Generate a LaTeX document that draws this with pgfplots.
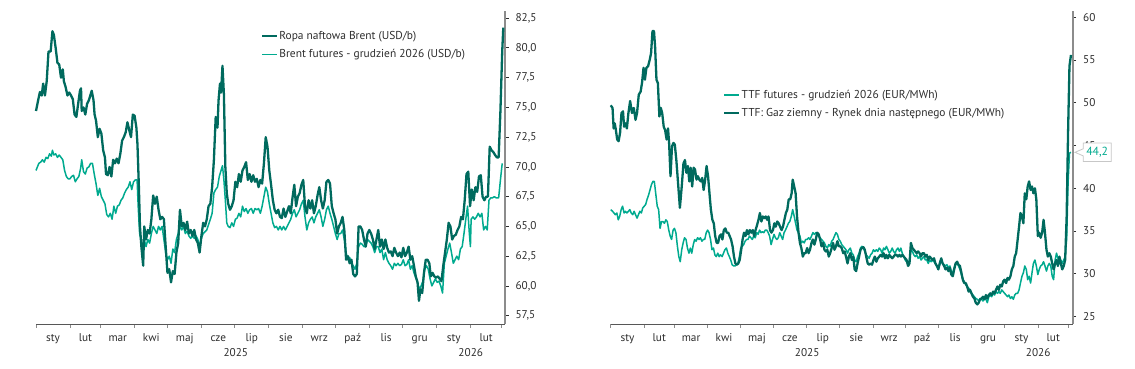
\documentclass[border=0pt]{standalone}
\usepackage{fontspec}
\setmainfont{PT Sans}
\usepackage{pgfplots}
\usepackage{pgfplotstable}
\pgfplotsset{compat=1.18}
\usetikzlibrary{shapes.callouts}
\definecolor{dk}{RGB}{0,106,94}
\definecolor{lt}{RGB}{0,170,143}
\definecolor{axgray}{RGB}{140,140,140}
\definecolor{txt}{RGB}{45,45,45}

\pgfplotstableread{
d v
0 74.7
1.95 75.6
3.58 76.3
5.21 76.0
6.51 77.0
8.14 76.0
9.76 77.2
11.39 79.7
13.34 79.7
14.97 81.4
16.27 81.1
17.9 80.0
19.52 78.75
21.15 78.6
22.78 77.5
24.41 78.2
25.38 77.2
27.01 76.7
28.64 76.0
30.26 76.25
31.89 76.0
33.52 75.7
35.14 74.4
36.77 74.2
38.4 75.3
40.03 76.4
41.0 76.6
41.65 74.7
43.28 75.0
44.91 74.4
46.53 75.3
48.16 75.6
50.76 76.4
52.39 75.6
53.37 74.4
54.67 73.9
56.3 72.5
57.92 73.2
59.55 72.8
61.18 71.4
62.8 70.8
63.78 69.4
65.41 69.3
67.03 70.0
68.66 69.2
70.29 70.6
71.92 70.3
73.54 70.7
75.17 70.3
76.8 71.1
78.42 72.2
80.05 72.5
81.68 72.9
83.3 73.75
84.93 73.1
86.56 72.5
88.19 74.4
89.81 74.3
91.44 73.3
92.42 71.9
93.72 68.3
94.69 65.0
95.99 63.3
97.62 61.7
98.6 65.0
100.22 63.9
101.85 64.7
103.48 64.4
105.1 65.6
106.73 67.6
108.36 66.9
109.99 67.5
111.62 66.4
113.24 65.6
114.87 65.8
116.5 65.6
118.12 63.3
119.75 61.1
121.38 61.4
123.0 60.3
124.63 61.25
126.26 61.0
127.89 62.8
129.51 63.6
131.14 66.4
132.77 65.0
134.39 65.3
136.02 64.7
137.65 65.4
139.28 64.4
140.9 64.7
142.53 64.2
144.16 64.7
145.78 63.9
147.41 63.6
149.04 62.8
150.67 64.2
152.29 65.3
153.92 65.0
155.55 65.6
157.17 66.7
158.8 66.9
160.43 68.3
162.05 70.6
163.68 74.2
165.31 73.3
166.28 75.6
167.59 77.0
168.56 76.25
169.86 78.5
171.16 76.1
172.47 70.0
173.77 67.8
175.07 66.9
176.7 66.4
178.32 66.7
179.95 67.2
181.58 68.75
183.21 68.3
184.83 69.4
186.46 68.75
188.09 69.7
189.71 70.0
191.34 70.4
192.97 68.9
194.59 69.4
196.22 68.75
197.85 69.3
199.48 68.75
201.1 69.0
202.73 68.3
204.36 68.9
205.98 68.6
207.61 70.3
209.24 72.5
210.86 71.7
212.49 69.7
214.12 68.5
215.75 67.2
217.37 66.4
219.0 66.1
220.63 66.4
222.25 65.8
223.88 65.7
225.51 66.5
227.14 65.8
228.76 66.25
230.39 66.7
232.02 66.1
233.64 67.4
235.27 68.5
236.9 66.7
238.53 67.5
240.15 67.8
241.78 68.5
243.41 68.9
245.03 66.7
246.66 66.1
248.29 67.2
249.92 66.5
251.54 67.2
253.17 66.1
254.8 66.7
256.42 67.6
258.05 68.3
259.68 67.2
261.3 66.5
262.93 67.2
264.56 68.75
266.19 68.9
267.81 68.6
269.44 66.7
271.07 66.1
272.69 65.6
274.32 64.4
275.95 65.0
277.58 65.3
279.2 65.8
280.83 64.7
282.46 62.2
284.08 62.5
285.71 61.9
287.34 62.2
288.96 61.0
290.59 60.8
292.22 61.0
293.85 65.0
295.47 65.0
297.1 64.7
298.73 63.9
300.35 63.3
301.98 64.4
303.61 64.7
305.24 64.4
306.86 63.9
308.49 63.1
310.12 63.9
311.74 64.7
313.37 63.3
315.0 63.9
316.62 63.1
318.25 63.9
319.88 63.2
321.51 62.8
323.13 62.9
324.76 62.5
326.39 63.2
328.01 62.8
329.64 62.5
331.27 62.8
332.89 62.4
334.52 63.2
336.15 62.5
337.78 62.8
339.4 63.3
341.03 62.2
342.66 62.5
344.28 61.7
345.91 60.8
347.54 60.3
348.84 58.75
350.14 59.7
351.77 59.4
353.4 61.1
355.02 62.2
356.65 62.2
358.28 61.9
359.58 60.8
361.21 61.1
362.83 60.8
364.46 60.7
366.09 60.8
367.71 60.6
369.34 60.4
370.97 61.7
372.59 62.8
374.22 63.9
375.85 65.3
377.48 65.0
379.1 63.9
380.73 64.2
382.36 64.3
383.98 64.7
385.61 65.0
387.24 65.8
388.87 65.6
390.49 67.2
392.12 69.4
393.75 69.6
395.37 66.7
397.0 68.1
398.63 67.2
400.25 68.3
401.88 67.9
403.51 69.2
405.14 69.3
406.76 67.5
408.39 67.2
410.01 67.5
411.64 67.5
413.27 71.7
414.9 71.4
416.52 71.25
418.15 71.0
419.78 70.8
421.4 70.8
423.03 74.7
424.66 79.7
425.64 81.7
}\brentspot

\pgfplotstableread{
d v
0 69.7
2.6 70.3
4.23 70.4
5.86 70.6
7.48 70.4
9.11 70.8
10.74 70.7
12.37 71.1
13.99 70.9
14.97 71.4
16.27 71.0
17.9 71.1
19.52 70.8
21.15 71.0
22.78 70.8
24.41 70.6
26.03 69.7
27.66 69.2
29.29 69.0
30.91 69.0
32.54 69.2
34.17 69.3
35.79 68.75
37.42 69.0
39.05 69.2
40.68 69.9
41.65 70.6
43.28 69.6
44.91 69.4
46.53 69.9
48.16 70.0
49.79 70.3
51.41 70.3
53.04 69.4
54.67 68.6
56.3 67.6
57.92 68.2
59.55 67.5
61.18 67.2
62.8 66.9
64.43 66.0
66.06 65.8
67.68 66.1
69.31 65.6
70.94 66.7
72.57 66.1
74.19 66.7
75.82 66.8
77.45 67.2
79.07 67.4
80.7 67.8
82.33 68.1
83.96 68.3
85.58 68.75
87.21 68.1
88.84 68.75
90.46 68.9
92.09 68.9
93.07 66.7
94.37 64.4
95.67 63.9
96.97 63.1
98.6 63.9
100.22 63.3
101.85 63.9
103.48 63.6
105.1 64.4
106.73 65.0
108.36 64.7
109.99 64.4
111.62 65.0
113.24 64.7
114.87 65.0
116.5 63.9
118.12 62.8
119.75 62.2
121.38 62.5
123.0 61.9
124.63 63.1
126.26 62.8
127.89 63.9
129.51 64.4
131.14 65.0
132.77 64.7
134.39 65.0
136.02 64.4
137.65 64.6
139.28 64.2
140.9 64.0
142.53 64.2
144.16 64.0
145.78 64.2
147.41 63.9
149.04 63.3
150.67 64.0
152.29 64.4
155.55 64.7
158.8 65.6
160.43 66.1
162.05 67.8
163.68 68.1
165.31 68.3
166.94 69.2
168.56 69.7
169.86 70.1
171.16 68.9
172.47 67.2
173.77 65.3
175.07 65.0
176.7 64.9
178.32 65.3
179.95 65.0
181.58 65.6
183.21 65.7
184.83 66.1
186.46 65.8
188.09 66.7
189.71 66.25
191.34 66.5
192.97 66.1
194.59 66.4
196.22 66.5
197.85 66.1
199.48 66.5
201.1 66.4
202.73 66.5
204.36 66.1
205.98 66.7
207.61 67.5
209.24 68.3
210.86 67.9
212.49 66.9
214.12 66.1
215.75 65.3
217.37 64.9
219.0 65.0
220.63 64.7
222.25 65.0
223.88 64.7
225.51 65.0
227.14 64.7
228.76 65.0
230.39 65.3
232.02 65.6
233.64 66.1
235.27 66.4
236.9 65.8
238.53 66.1
240.15 66.4
241.78 66.9
243.41 67.2
245.03 65.8
246.66 64.7
248.29 65.3
249.92 65.6
251.54 65.8
253.17 65.3
254.8 65.8
256.42 66.1
258.05 66.4
259.68 65.8
261.3 65.0
262.93 65.6
264.56 66.4
266.19 66.7
267.81 66.1
269.44 65.6
271.07 65.0
272.69 64.4
274.32 63.9
275.95 64.4
277.58 64.4
279.2 64.7
280.83 63.9
282.46 62.8
284.08 62.2
285.71 62.4
287.34 61.9
288.96 61.7
290.59 61.4
292.22 61.9
293.85 63.3
295.47 63.6
297.1 63.5
298.73 63.3
300.35 63.3
301.98 63.9
303.61 63.75
305.24 63.6
306.86 63.3
308.49 62.8
310.12 63.3
311.74 63.3
313.37 62.8
315.0 63.1
316.62 62.2
318.25 62.8
319.88 62.2
321.51 61.9
323.13 61.7
324.76 61.4
326.39 61.9
328.01 61.7
329.64 61.9
331.27 61.7
332.89 61.8
334.52 62.2
336.15 61.7
337.78 61.8
339.4 62.2
341.03 61.4
342.66 61.7
344.28 61.1
345.91 60.7
347.54 60.3
349.16 59.7
350.79 60.0
352.42 60.4
354.05 61.4
355.68 61.7
357.3 61.4
358.93 60.6
360.55 60.0
362.18 60.3
363.81 60.6
365.43 60.3
367.06 60.4
368.69 60.0
370.32 59.4
371.94 61.9
373.57 62.5
375.2 63.1
376.82 63.6
378.45 62.8
380.08 61.9
381.7 62.2
383.33 62.5
384.96 62.2
386.59 63.1
388.21 63.3
389.84 64.4
391.47 65.6
393.09 66.7
394.72 64.4
395.70 63.3
396.35 65.6
397.98 65.8
399.6 65.6
401.23 65.8
402.86 66.1
404.48 65.8
406.11 66.1
407.74 64.7
409.36 65.0
410.99 64.7
412.62 67.2
414.24 67.4
415.87 67.4
417.5 67.5
419.13 67.4
421.4 67.4
423.03 68.9
424.66 70.3
}\brentfut

\pgfplotstableread{
d v
0 49.7
1.7 49.4
2.7 47.0
3.7 47.6
4.7 46.9
6.0 45.7
7.3 45.5
8.7 46.5
10.0 48.8
11.4 49.0
12.4 47.2
13.7 47.6
15.0 47.0
16.4 48.8
18.0 50.2
19.7 48.8
21.4 49.4
23.0 48.0
24.4 48.8
26.0 50.95
27.7 51.3
29.0 52.3
30.4 54.1
31.7 52.7
33.1 54.1
34.7 54.3
36.1 55.0
37.4 55.8
38.7 58.4
40.1 58.4
41.1 56.6
42.4 52.7
43.7 52.3
45.1 48.4
46.4 49.4
47.7 48.8
49.1 47.2
50.4 46.8
51.8 45.7
53.1 47.0
54.1 45.3
55.4 41.4
56.8 44.9
58.1 45.3
59.4 45.1
60.8 43.3
62.4 40.6
64.1 37.7
65.8 40.2
67.4 42.9
68.8 43.3
70.1 41.8
71.5 42.6
72.8 40.8
74.1 42.4
75.5 40.2
76.8 42.4
78.1 42.2
79.5 41.0
80.8 41.4
82.1 41.0
83.5 40.8
84.8 41.2
86.1 39.8
87.5 41.0
88.8 42.6
90.2 41.4
91.5 39.4
92.8 37.5
94.2 36.3
95.5 35.9
96.8 34.4
98.2 33.6
99.5 33.6
100.8 34.4
102.2 34.6
103.5 34.0
104.8 35.1
106.2 35.3
107.5 34.8
108.9 34.8
110.2 34.4
111.5 34.0
112.9 33.2
114.2 32.0
115.5 31.2
116.9 31.05
118.2 31.2
119.5 31.6
120.9 32.8
122.2 34.0
123.5 34.8
124.9 34.4
126.2 35.1
127.5 34.6
128.9 35.1
130.2 34.8
131.6 35.1
132.9 34.4
134.2 35.1
135.6 35.7
136.9 36.3
138.2 37.1
139.6 36.1
140.9 36.7
142.2 36.5
143.6 36.7
144.9 36.3
146.2 36.7
147.6 35.1
148.9 34.8
150.3 35.1
151.6 35.9
152.9 35.5
154.3 36.1
155.6 35.9
156.9 35.5
158.3 35.1
159.6 35.5
160.9 36.3
162.3 37.1
163.6 37.5
164.9 38.7
166.3 38.7
167.6 39.4
168.6 41.0
170.0 40.2
171.3 39.4
172.6 36.7
174.0 34.8
175.3 33.6
176.6 33.0
178.0 32.0
179.3 32.4
180.6 32.4
182.0 33.0
183.3 32.4
184.6 32.8
186.0 33.6
187.3 34.0
188.7 33.4
190.0 34.0
191.3 34.8
192.7 34.6
194.0 34.0
195.3 33.2
196.7 33.6
198.0 32.8
199.3 32.6
200.7 32.8
202.0 32.0
203.3 32.4
204.7 33.0
206.0 33.6
207.3 32.8
208.7 33.2
210.0 33.8
211.4 33.2
212.7 33.2
214.0 33.0
215.4 32.4
216.7 32.6
218.0 32.0
219.4 31.2
220.7 32.0
222.0 32.4
223.4 31.6
224.7 32.0
226.0 30.5
227.4 30.3
228.7 31.2
230.1 32.0
231.4 32.8
232.7 33.0
234.1 33.1
235.4 32.8
236.7 32.0
238.1 31.2
239.4 31.05
240.7 31.2
242.1 31.05
243.4 31.6
244.7 32.0
246.1 31.4
247.4 31.8
248.8 32.0
250.1 32.2
251.4 32.0
252.8 32.4
254.1 31.8
255.4 32.2
256.8 31.8
258.1 32.2
259.4 32.0
260.8 31.8
262.1 32.0
263.4 32.2
264.8 32.2
266.1 32.0
267.5 32.2
268.8 32.0
270.1 32.2
271.5 32.0
272.8 31.8
274.1 31.6
275.5 30.9
276.8 31.2
278.1 33.6
279.5 33.0
280.8 32.8
282.1 32.6
283.5 32.4
284.8 32.6
286.1 32.4
287.5 32.0
288.8 32.4
290.2 32.4
291.5 32.0
292.8 32.2
294.2 31.6
295.5 32.0
296.8 31.8
298.2 31.6
299.5 31.8
300.8 31.2
302.2 30.9
303.5 30.5
304.8 31.2
306.2 31.8
307.5 31.2
308.9 30.9
310.2 30.5
311.5 30.7
312.9 30.3
314.2 30.7
315.5 29.9
316.9 29.7
318.2 30.5
319.5 31.2
320.9 31.4
322.2 31.05
323.5 30.9
324.9 30.1
326.2 29.3
327.5 28.9
328.9 28.9
330.2 28.5
331.6 27.9
332.9 28.1
334.2 27.7
335.6 27.3
336.9 27.1
338.2 26.6
339.6 26.4
340.9 26.6
342.2 27.0
343.6 27.1
344.9 27.3
346.2 27.0
347.6 27.5
348.9 27.1
350.3 27.5
351.6 27.7
352.9 27.5
354.3 27.9
355.6 27.7
356.9 28.1
358.3 28.5
359.6 28.1
360.9 28.7
362.3 28.5
363.6 29.1
364.9 29.3
366.3 28.9
367.6 29.5
368.9 29.3
370.3 29.7
371.6 30.5
373.0 30.9
374.3 32.0
375.6 32.4
377.0 34.0
378.3 35.5
379.6 37.1
381.0 36.7
382.3 35.9
383.6 39.4
385.0 38.7
386.3 40.2
387.6 40.8
389.0 39.8
390.3 40.2
391.6 39.4
393.0 40.0
394.3 38.7
395.7 34.4
397.0 34.8
398.3 34.2
399.7 34.8
401.0 36.3
402.3 34.8
403.7 32.8
405.0 32.0
406.3 32.4
407.7 32.0
409.0 31.2
410.3 30.5
411.7 31.2
413.0 31.6
414.3 30.9
415.7 32.0
417.0 31.2
418.3 30.5
419.7 30.9
421.0 31.6
422.4 36.7
423.7 46.5
425.0 54.3
426.4 55.6
}\ttfspot

\pgfplotstableread{
d v
0 37.5
1.7 37.3
3.0 37.1
4.3 36.9
5.7 37.1
7.0 36.3
8.3 36.7
9.7 37.5
11.0 37.9
12.4 37.1
13.7 37.3
15.0 37.1
16.4 37.3
17.7 37.5
19.0 37.1
20.4 36.9
21.7 37.3
23.0 36.9
24.4 36.5
25.7 36.9
27.0 37.3
28.4 37.1
29.7 37.7
31.1 37.9
32.4 38.1
33.7 38.7
35.1 39.2
36.4 39.8
37.7 40.4
39.1 40.8
40.4 40.8
41.7 39.4
43.1 37.9
44.4 37.5
45.7 35.3
47.1 36.1
48.4 36.1
49.8 35.9
51.1 36.3
52.4 36.1
53.8 35.1
55.1 34.4
56.4 34.0
57.8 35.1
59.1 35.3
60.4 34.8
61.8 33.2
63.1 32.0
64.4 31.4
65.8 32.8
67.1 33.6
68.4 34.2
69.8 34.0
71.1 33.0
72.5 32.4
73.8 33.0
75.1 32.4
76.5 33.4
77.8 34.0
79.1 33.8
80.5 34.2
81.8 34.0
83.1 34.2
84.5 33.8
85.8 34.0
87.1 34.0
88.5 34.8
89.8 35.1
91.1 34.8
92.5 34.0
93.8 32.8
95.2 33.0
96.5 32.2
97.8 32.0
99.2 32.4
100.5 32.0
101.8 32.2
103.2 32.0
104.5 32.4
105.8 32.8
107.2 33.0
108.5 32.4
109.9 32.0
111.2 31.6
112.5 31.05
113.9 30.9
115.2 30.9
116.5 31.05
117.9 31.2
119.2 32.0
120.5 33.0
121.9 33.2
123.2 33.4
124.5 33.8
125.9 34.0
127.2 34.0
128.5 34.4
129.9 34.2
131.2 34.0
132.5 34.4
133.9 34.2
135.2 34.8
136.6 34.6
137.9 35.1
139.2 34.8
140.6 34.9
141.9 34.8
143.2 35.1
144.6 35.1
145.9 34.8
147.2 34.4
148.6 33.4
149.9 34.0
151.3 34.6
152.6 34.2
153.9 34.0
155.3 34.2
156.6 34.8
157.9 34.4
159.3 34.0
160.6 34.8
161.9 35.1
163.3 35.5
164.6 35.9
165.9 36.1
167.3 36.7
168.6 37.5
170.0 36.7
171.3 35.9
172.6 35.1
174.0 34.8
175.3 34.4
176.6 33.6
178.0 33.8
179.3 33.6
180.6 34.0
182.0 34.0
183.3 34.2
184.6 34.0
186.0 34.4
187.3 34.8
188.7 34.6
190.0 34.8
191.3 34.6
192.7 34.4
194.0 34.2
195.3 34.0
196.7 33.8
198.0 33.6
199.3 33.2
200.7 33.0
202.0 33.4
203.3 33.2
204.7 33.8
206.0 34.0
207.3 34.4
208.7 34.8
210.0 34.6
211.4 34.0
212.7 33.8
214.0 33.4
215.4 33.2
216.7 33.0
218.0 32.8
219.4 32.4
220.7 32.8
222.0 33.0
223.4 32.4
224.7 32.2
226.0 31.6
227.4 31.4
228.7 32.0
230.1 32.4
231.4 33.0
232.7 33.2
234.1 33.0
235.4 32.6
236.7 32.2
238.1 32.0
239.4 31.8
240.7 32.2
242.1 32.4
243.4 32.8
244.7 32.6
246.1 32.8
247.4 32.6
248.8 33.0
250.1 32.8
251.4 32.4
252.8 33.0
254.1 32.8
255.4 33.2
256.8 32.8
258.1 32.4
259.4 32.6
260.8 33.0
262.1 32.6
263.4 32.4
264.8 32.8
266.1 33.0
267.5 32.6
268.8 33.0
270.1 32.4
271.5 32.0
272.8 31.6
274.1 31.4
275.5 31.2
276.8 31.6
278.1 32.8
279.5 32.6
280.8 32.2
282.1 32.0
283.5 32.2
284.8 31.8
286.1 32.0
287.5 31.6
288.8 31.8
290.2 32.0
291.5 31.6
292.8 31.6
294.2 31.2
295.5 31.6
296.8 31.4
298.2 31.6
299.5 31.4
300.8 31.2
302.2 30.9
303.5 30.7
304.8 31.05
306.2 31.6
307.5 31.2
308.9 31.05
310.2 30.9
311.5 31.05
312.9 30.7
314.2 30.9
315.5 30.3
316.9 30.1
318.2 30.7
319.5 31.05
320.9 31.2
322.2 30.9
323.5 30.5
324.9 29.9
326.2 29.3
327.5 29.1
328.9 28.7
330.2 28.5
331.6 28.3
332.9 28.1
334.2 27.7
335.6 27.5
336.9 27.3
338.2 27.1
339.6 27.0
340.9 26.8
342.2 27.1
343.6 27.0
344.9 26.8
346.2 27.1
347.6 27.0
348.9 26.6
350.3 27.3
351.6 27.5
352.9 27.3
354.3 27.7
355.6 27.5
356.9 27.9
358.3 27.7
359.6 27.9
360.9 27.7
362.3 28.1
363.6 27.9
364.9 27.7
366.3 27.5
367.6 27.3
368.9 27.5
370.3 27.1
371.6 27.3
373.0 27.0
374.3 27.5
375.6 27.7
377.0 27.7
378.3 28.1
379.6 28.9
381.0 29.7
382.3 30.1
383.6 30.9
385.0 30.5
386.3 29.3
387.6 29.7
389.0 28.9
390.3 30.1
391.6 31.2
393.0 31.6
394.3 30.9
395.7 29.9
397.0 30.5
398.3 30.9
399.7 31.05
401.0 31.4
402.3 30.9
403.7 30.3
405.0 30.9
406.3 31.2
407.7 30.9
409.0 29.7
410.3 29.3
411.7 31.6
413.0 32.4
414.3 31.8
415.7 31.2
417.0 31.6
418.3 31.2
419.7 31.6
421.0 32.0
422.4 34.0
423.7 40.6
425.0 44.1
426.4 44.2
}\ttffut

\pgfplotsset{
  base/.style={
    scale only axis,
    xmin=0,
    axis x line*=bottom,
    axis y line*=right,
    x axis line style={draw=txt!80, line width=0.9bp, -},
    y axis line style={draw=axgray, line width=1.6bp, -},
    xtick={0,31,59,90,120,151,181,212,243,273,304,334,365,396,424},
    xticklabels={},
    major tick length=3.5bp,
    tick align=outside,
    x tick style={draw=axgray, line width=0.8bp},
    y tick style={draw=txt, line width=0.8bp},
    extra x ticks={15.5,45,74.5,105,135.5,166,196.5,227.5,258,288.5,319,349.5,380.5,410},
    extra x tick labels={sty,lut,mar,kwi,maj,cze,lip,sie,wrz,paź,lis,gru,sty,lut},
    extra x tick style={major tick length=0pt, tick style={draw=none}},
    tick label style={font=\fontsize{11.3}{13}\selectfont, text=txt},
    xticklabel style={anchor=base, yshift=-17.5bp},
    yticklabel style={xshift=3.5bp},
    /pgf/number format/assume math mode=true,
    clip=false,
    legend cell align=left,
    legend style={draw=none, fill=none, font=\fontsize{11.5}{13.5}\selectfont, text=txt,
      inner sep=0pt, row sep=5.3bp, nodes={inner sep=1.5bp}},
    legend image code/.code={\draw[#1] (0bp,0bp) -- (14.7bp,0bp);},
  },
  dkline/.style={color=dk, line width=2.3bp, line join=round},
  ltline/.style={color=lt, line width=1.5bp, line join=round},
}

\begin{document}
\begin{tikzpicture}
\useasboundingbox (0,0) rectangle (1135bp,369bp);

\begin{axis}[base,
  at={(36bp,45bp)}, anchor=south west,
  width=469bp, height=313bp,
  xmax=427.2, ymin=56.8, ymax=83.1,
  ytick={57.5,60,62.5,65,67.5,70,72.5,75,77.5,80,82.5},
  yticklabel style={/pgf/number format/.cd, fixed, fixed zerofill, precision=1, use comma},
  legend style={at={(axis description cs:0.479,0.94)}, anchor=north west},
]
\addlegendimage{dkline}
\addlegendentry{Ropa naftowa Brent (USD/b)}
\addlegendimage{ltline}
\addlegendentry{Brent futures - grudzień 2026 (USD/b)}
\addplot[ltline, forget plot] table[x=d, y=v] {\brentfut};
\addplot[dkline, forget plot] table[x=d, y=v] {\brentspot};
\node[anchor=base, font=\fontsize{11.3}{13}\selectfont, text=txt] at (axis cs:182,56.8) [yshift=-32.5bp] {2025};
\node[anchor=base, font=\fontsize{11.3}{13}\selectfont, text=txt] at (axis cs:396,56.8) [yshift=-32.5bp] {2026};
\end{axis}

\begin{axis}[base,
  at={(610.7bp,45bp)}, anchor=south west,
  width=462bp, height=313bp,
  xmax=428, ymin=24.11, ymax=60.74,
  ytick={25,30,35,40,45,50,55,60},
  legend style={at={(axis description cs:0.243,0.753)}, anchor=north west},
]
\addplot[ltline] table[x=d, y=v] {\ttffut};
\addlegendentry{TTF futures - grudzień 2026 (EUR/MWh)}
\addplot[dkline] table[x=d, y=v] {\ttfspot};
\addlegendentry{TTF: Gaz ziemny - Rynek dnia następnego (EUR/MWh)}
\node[anchor=base, font=\fontsize{11.3}{13}\selectfont, text=txt] at (axis cs:182,24.11) [yshift=-32.5bp] {2025};
\node[anchor=base, font=\fontsize{11.3}{13}\selectfont, text=txt] at (axis cs:396,24.11) [yshift=-32.5bp] {2026};
\coordinate (tip) at (axis cs:428,44.2);
\end{axis}

\node[rectangle callout, draw=black!22, fill=white, line width=0.8bp,
  minimum width=28bp, minimum height=18.5bp, inner sep=1bp,
  text=lt, font=\fontsize{11.8}{13}\selectfont,
  callout absolute pointer={([xshift=2.3bp]tip)}]
  at ([xshift=24.5bp]tip) {44,2};
\end{tikzpicture}
\end{document}
